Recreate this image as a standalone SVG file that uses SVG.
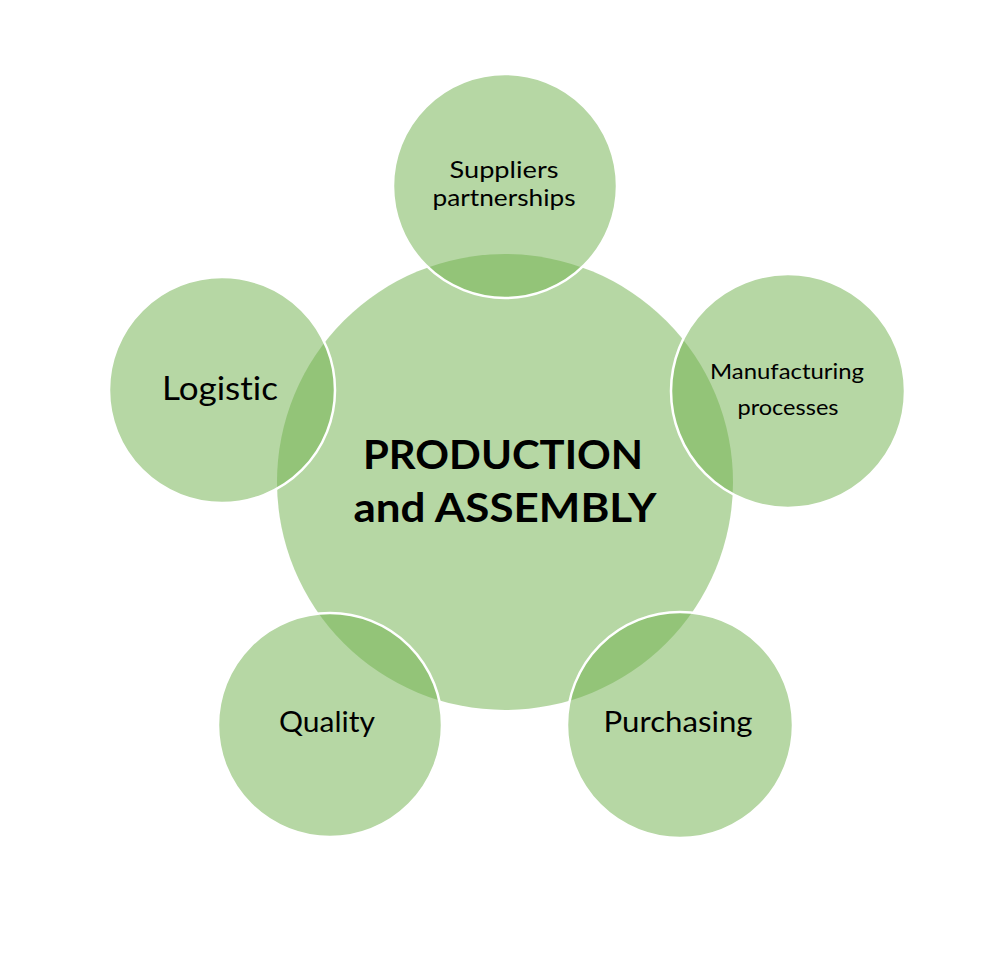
<svg xmlns="http://www.w3.org/2000/svg" width="1000" height="954" viewBox="0 0 1000 954">
<style>
.c{fill:rgb(115,178,80);fill-opacity:0.52}
.s{stroke:#fff;stroke-width:2.5}
text{font-family:Lato,"Open Sans","Liberation Sans",sans-serif;fill:#000;text-anchor:middle;font-variant-ligatures:none;font-feature-settings:"liga" 0,"dlig" 0}
.b{font-weight:bold;font-size:41px}
</style>
<rect width="1000" height="954" fill="#fff"/>
<g id="center"><circle class="c" cx="505" cy="482" r="228"/>
<text class="b" x="503" y="469" textLength="280" lengthAdjust="spacingAndGlyphs">PRODUCTION</text>
<text class="b" x="505" y="522" textLength="303" lengthAdjust="spacingAndGlyphs">and ASSEMBLY</text></g>
<g id="suppliers"><circle class="c s" cx="505" cy="186" r="112"/>
<text x="504" y="178" font-size="23" textLength="109" lengthAdjust="spacingAndGlyphs">Suppliers</text>
<text x="504" y="206" font-size="23" textLength="143" lengthAdjust="spacingAndGlyphs">partnerships</text></g>
<g id="manufacturing"><circle class="c s" cx="788" cy="391" r="117"/>
<text x="787" y="379" font-size="21" textLength="154" lengthAdjust="spacingAndGlyphs">Manufacturing</text>
<text x="788" y="415" font-size="21" textLength="101" lengthAdjust="spacingAndGlyphs">processes</text></g>
<g id="logistic"><circle class="c s" cx="222" cy="390" r="113"/>
<text x="220" y="400" font-size="32" textLength="116" lengthAdjust="spacingAndGlyphs">Logistic</text></g>
<g id="quality"><circle class="c s" cx="330" cy="725" r="112"/>
<text x="327" y="732" font-size="28" textLength="96" lengthAdjust="spacingAndGlyphs">Quality</text></g>
<g id="purchasing"><circle class="c s" cx="680" cy="725" r="113"/>
<text x="678" y="732" font-size="28" textLength="149" lengthAdjust="spacingAndGlyphs">Purchasing</text></g>
<g id="connectors"/>
</svg>
